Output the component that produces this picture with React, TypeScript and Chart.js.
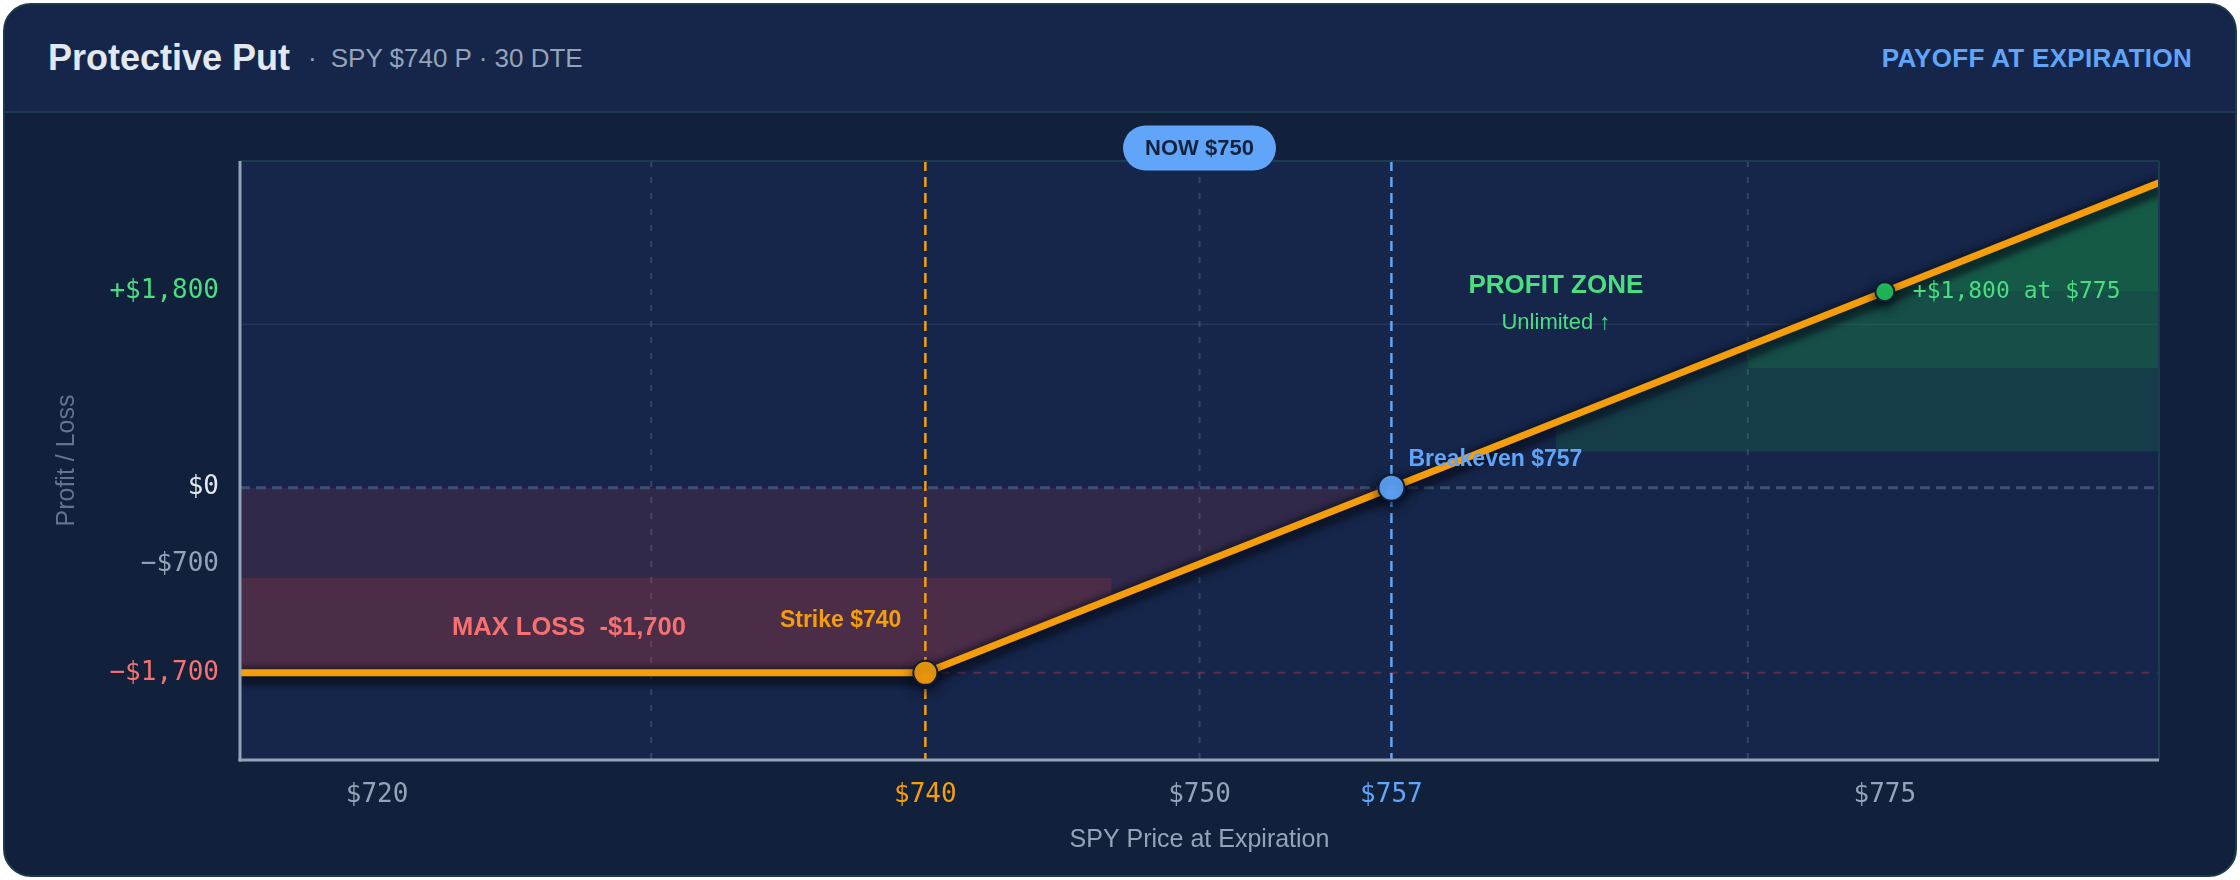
import React, { useEffect, useRef } from 'react';
import { Chart, registerables } from 'chart.js';

Chart.register(...registerables);

const SANS = '"Liberation Sans", Arial, Helvetica, sans-serif';
const MONO = '"DejaVu Sans Mono", monospace';

// payoff at expiration (SPY price -> P/L in $)
const prices = [715, 740, 757, 775, 785];
const pnl = [-1700, -1700, 0, 1800, 2800];

// axes
const xTicks = [720, 740, 750, 757, 775];
const yTicks = [-1700, -700, 0, 1800];
const xGrid = [730, 750, 770];
const yGrid = [1500];

// key levels
const strike = 740;
const spot = 750;
const breakeven = 757;
const maxLoss = -1700;
const target = 775;
const targetPnl = 1800;

// shaded zones
const lossZone = [
  { x: 715, y: -1700 },
  { x: 740, y: -1700 },
  { x: 757, y: 0 },
];
const lossDeep = [
  { x: 715, y: -1700 },
  { x: 740, y: -1700 },
  { x: 746.8, y: -1020 },
];
const lossDeepFloor = -830;
const profitLow = [
  { x: 763, y: 600 },
  { x: 785, y: 2800 },
];
const profitLowFloor = 330;
const profitMid = [
  { x: 770, y: 1300 },
  { x: 785, y: 2800 },
];
const profitMidFloor = 1100;
const profitHigh = [
  { x: 775, y: 1800 },
  { x: 785, y: 2800 },
];
const profitHighFloor = 1800;

const xTickColor = (v: number) => (v === strike ? '#f59e0b' : v === breakeven ? '#60a5fa' : '#94a3b8');
const yTickColor = (v: number) => (v > 0 ? '#4ade80' : v === 0 ? '#e2e8f0' : v === maxLoss ? '#f87171' : '#94a3b8');
const fmtPnl = (v: number) => (v === 0 ? '$0' : (v > 0 ? '+' : '\u2212') + '$' + Math.abs(v).toLocaleString('en-US'));

const vLine = (ctx: CanvasRenderingContext2D, px: number, top: number, bottom: number) => {
  ctx.beginPath();
  ctx.moveTo(px, top);
  ctx.lineTo(px, bottom);
  ctx.stroke();
};
const hLine = (ctx: CanvasRenderingContext2D, py: number, left: number, right: number) => {
  ctx.beginPath();
  ctx.moveTo(left, py);
  ctx.lineTo(right, py);
  ctx.stroke();
};

const payoffDecor = {
  id: 'payoffDecor',
  beforeDraw(chart: any) {
    const { ctx, chartArea: a, scales } = chart;
    const { x, y } = scales;
    ctx.save();
    ctx.fillStyle = '#16264a';
    ctx.fillRect(a.left, a.top, a.right - a.left, a.bottom - a.top);

    ctx.strokeStyle = 'rgba(100,116,139,0.4)';
    ctx.lineWidth = 2;
    ctx.setLineDash([6, 10]);
    xGrid.forEach((v) => vLine(ctx, x.getPixelForValue(v), a.top, a.bottom));
    ctx.setLineDash([]);
    ctx.strokeStyle = 'rgba(100,116,139,0.22)';
    ctx.lineWidth = 1.5;
    yGrid.forEach((v) => hLine(ctx, y.getPixelForValue(v), a.left, a.right));
    ctx.restore();
  },
  beforeDatasetDraw(chart: any, args: any) {
    if (args.index !== 0) return;
    const { ctx, chartArea: a, scales } = chart;
    const { x, y } = scales;
    ctx.save();
    ctx.lineWidth = 3;
    ctx.setLineDash([10, 6]);
    ctx.strokeStyle = '#3b5275';
    hLine(ctx, y.getPixelForValue(0), a.left, a.right);

    ctx.lineWidth = 2;
    ctx.setLineDash([8, 8]);
    ctx.strokeStyle = 'rgba(239,68,68,0.32)';
    hLine(ctx, y.getPixelForValue(maxLoss), x.getPixelForValue(strike), a.right);

    ctx.lineWidth = 2.5;
    ctx.setLineDash([10, 6]);
    ctx.strokeStyle = '#f59e0b';
    vLine(ctx, x.getPixelForValue(strike), a.top, a.bottom);
    ctx.strokeStyle = '#60a5fa';
    vLine(ctx, x.getPixelForValue(breakeven), a.top, a.bottom);
    ctx.setLineDash([]);

    // dark halo along the payoff line
    const pts = args.meta.data;
    ctx.beginPath();
    ctx.rect(a.left, a.top, a.right - a.left, a.bottom - a.top);
    ctx.clip();
    ctx.strokeStyle = 'rgba(8,12,26,0.4)';
    ctx.lineWidth = 20;
    ctx.lineJoin = 'round';
    ctx.filter = 'blur(2px)';
    ctx.beginPath();
    pts.forEach((p: any, i: number) => (i === 0 ? ctx.moveTo(p.x, p.y + 3) : ctx.lineTo(p.x, p.y + 3)));
    ctx.stroke();
    ctx.filter = 'none';
    ctx.restore();

    // shadow under the payoff line
    ctx.save();
    ctx.shadowColor = 'rgba(2,6,18,0.6)';
    ctx.shadowBlur = 12;
    ctx.shadowOffsetY = 5;
  },
  afterDatasetDraw(chart: any, args: any) {
    if (args.index !== 0) return;
    chart.ctx.restore();
  },
  afterDraw(chart: any) {
    const { ctx, chartArea: a, scales } = chart;
    const { x, y } = scales;
    ctx.save();

    // plot frame
    ctx.strokeStyle = '#1d3b4f';
    ctx.lineWidth = 2;
    hLine(ctx, a.top, a.left, a.right);
    vLine(ctx, a.right, a.top, a.bottom);
    ctx.strokeStyle = '#94a3b8';
    ctx.lineWidth = 3;
    vLine(ctx, a.left, a.top, a.bottom + 1.5);
    hLine(ctx, a.bottom, a.left - 1.5, a.right);

    ctx.textBaseline = 'middle';

    ctx.font = `bold 23px ${SANS}`;
    ctx.fillStyle = '#f59e0b';
    ctx.textAlign = 'right';
    ctx.fillText('Strike $740', x.getPixelForValue(strike) - 24, y.getPixelForValue(maxLoss) - 52);

    ctx.font = `bold 25.5px ${SANS}`;
    ctx.fillStyle = '#f87171';
    ctx.textAlign = 'center';
    ctx.fillText('MAX LOSS  -$1,700', x.getPixelForValue(727), y.getPixelForValue(maxLoss) - 45);

    ctx.font = `bold 23px ${SANS}`;
    ctx.fillStyle = '#60a5fa';
    ctx.textAlign = 'left';
    ctx.fillText('Breakeven $757', x.getPixelForValue(breakeven) + 17, y.getPixelForValue(0) - 28);

    ctx.font = `bold 26px ${SANS}`;
    ctx.fillStyle = '#4ade80';
    ctx.textAlign = 'center';
    const pzY = y.getPixelForValue(1850);
    ctx.fillText('PROFIT ZONE', x.getPixelForValue(763), pzY);
    ctx.font = `22px ${SANS}`;
    ctx.fillText('Unlimited \u2191', x.getPixelForValue(763), pzY + 37);

    ctx.font = `23px ${MONO}`;
    ctx.textAlign = 'left';
    ctx.fillText('+$1,800 at $775', x.getPixelForValue(target) + 28, y.getPixelForValue(targetPnl));

    // spot pill
    const cx = x.getPixelForValue(spot);
    const cy = a.top - 13;
    const w = 153;
    const h = 45;
    ctx.fillStyle = '#60a5fa';
    ctx.beginPath();
    ctx.roundRect(cx - w / 2, cy - h / 2, w, h, h / 2);
    ctx.fill();
    ctx.font = `bold 22px ${SANS}`;
    ctx.fillStyle = '#13223d';
    ctx.textAlign = 'center';
    ctx.fillText('NOW $750', cx, cy + 1);

    ctx.restore();
  },
};

const zoneFill = (data: { x: number; y: number }[], floor: number, color: string, side: 'above' | 'below') => ({
  data,
  borderWidth: 0,
  pointRadius: 0,
  borderColor: 'transparent',
  fill: {
    target: { value: floor },
    above: side === 'above' ? color : 'transparent',
    below: side === 'below' ? color : 'transparent',
  },
});

const PayoffChart: React.FC = () => {
  const chartRef = useRef<HTMLCanvasElement>(null);
  const chartInstance = useRef<Chart | null>(null);

  useEffect(() => {
    if (!chartRef.current) return;
    if (chartInstance.current) chartInstance.current.destroy();

    const ctx = chartRef.current.getContext('2d');
    if (!ctx) return;

    const markerAt = (v: number) => (v === strike ? 12 : v === breakeven ? 13 : v === target ? 9.5 : 0);
    const markerColor = (v: number) => (v === strike ? '#f59e0b' : v === breakeven ? '#60a5fa' : '#22c55e');

    chartInstance.current = new Chart(ctx, {
      type: 'line',
      data: {
        datasets: [
          {
            data: prices.map((p, i) => ({ x: p, y: pnl[i] })),
            borderColor: '#f59e0b',
            borderWidth: 7,
            tension: 0,
            fill: false,
            pointRadius: prices.map(markerAt),
            pointBackgroundColor: prices.map(markerColor),
            pointBorderColor: '#0f1e36',
            pointBorderWidth: 2,
          },
          zoneFill(profitHigh, profitHighFloor, 'rgba(22,163,74,0.14)', 'above'),
          zoneFill(profitMid, profitMidFloor, 'rgba(22,163,74,0.18)', 'above'),
          zoneFill(profitLow, profitLowFloor, 'rgba(22,163,74,0.18)', 'above'),
          zoneFill(lossDeep, lossDeepFloor, 'rgba(239,68,68,0.14)', 'below'),
          zoneFill(lossZone, 0, 'rgba(239,68,68,0.12)', 'below'),
        ] as any,
      },
      options: {
        animation: false,
        responsive: true,
        maintainAspectRatio: false,
        events: [],
        layout: { padding: { top: 48, right: 76, bottom: 0, left: 0 } },
        plugins: {
          legend: { display: false },
          tooltip: { enabled: false },
        },
        scales: {
          x: {
            type: 'linear',
            min: 715,
            max: 785,
            afterBuildTicks: (s: any) => {
              s.ticks = xTicks.map((v) => ({ value: v }));
            },
            afterFit: (s: any) => {
              s.height = 115;
            },
            grid: { display: false, drawTicks: false },
            border: { display: false },
            ticks: {
              autoSkip: false,
              maxRotation: 0,
              padding: 20,
              font: { family: MONO, size: 26 },
              color: (c: any) => xTickColor(c.tick.value),
              callback: (v: any) => '$' + v,
            },
            title: {
              display: true,
              text: 'SPY Price at Expiration',
              color: '#94a3b8',
              font: { family: SANS, size: 25 },
              padding: { top: 0, bottom: 20 },
            },
          },
          y: {
            type: 'linear',
            min: -2500,
            max: 3000,
            afterBuildTicks: (s: any) => {
              s.ticks = yTicks.map((v) => ({ value: v }));
            },
            afterFit: (s: any) => {
              s.width = 235;
            },
            grid: { display: false, drawTicks: false },
            border: { display: false },
            ticks: {
              padding: 21,
              font: { family: MONO, size: 26 },
              color: (c: any) => yTickColor(c.tick.value),
              callback: (v: any) => fmtPnl(Number(v)),
            },
            title: {
              display: true,
              text: 'Profit / Loss',
              color: '#64748b',
              font: { family: SANS, size: 25 },
              padding: { top: 47, bottom: 0 },
            },
          },
        },
      },
      plugins: [payoffDecor],
    });

    return () => {
      if (chartInstance.current) {
        chartInstance.current.destroy();
        chartInstance.current = null;
      }
    };
  }, []);

  return (
    <div style={{ position: 'absolute', left: 0, top: 108, width: 2230, height: 762 }}>
      <canvas ref={chartRef} />
    </div>
  );
};

const App: React.FC = () => {
  return (
    <div
      style={{
        position: 'absolute',
        left: 3,
        top: 3,
        width: 2234,
        height: 874,
        boxSizing: 'border-box',
        border: '2px solid #1c3a4c',
        borderRadius: 28,
        background: '#12213b',
        overflow: 'hidden',
        fontFamily: SANS,
      }}
    >
      <div
        style={{
          height: 106,
          borderBottom: '2px solid #1b3a4d',
          background: '#16264a',
          display: 'flex',
          alignItems: 'center',
          justifyContent: 'space-between',
          padding: '0 43px',
        }}
      >
        <div style={{ display: 'flex', alignItems: 'center' }}>
          <span style={{ fontSize: 36, fontWeight: 700, color: '#e2e8f0' }}>Protective Put</span>
          <span style={{ fontSize: 26, color: '#94a3b8', marginLeft: 18 }}>
            <span style={{ marginRight: 14 }}>·</span>SPY $740 P · 30 DTE
          </span>
        </div>
        <span style={{ fontSize: 26, fontWeight: 700, color: '#60a5fa', letterSpacing: 0.3 }}>PAYOFF AT EXPIRATION</span>
      </div>
      <PayoffChart />
    </div>
  );
};

export default App;
